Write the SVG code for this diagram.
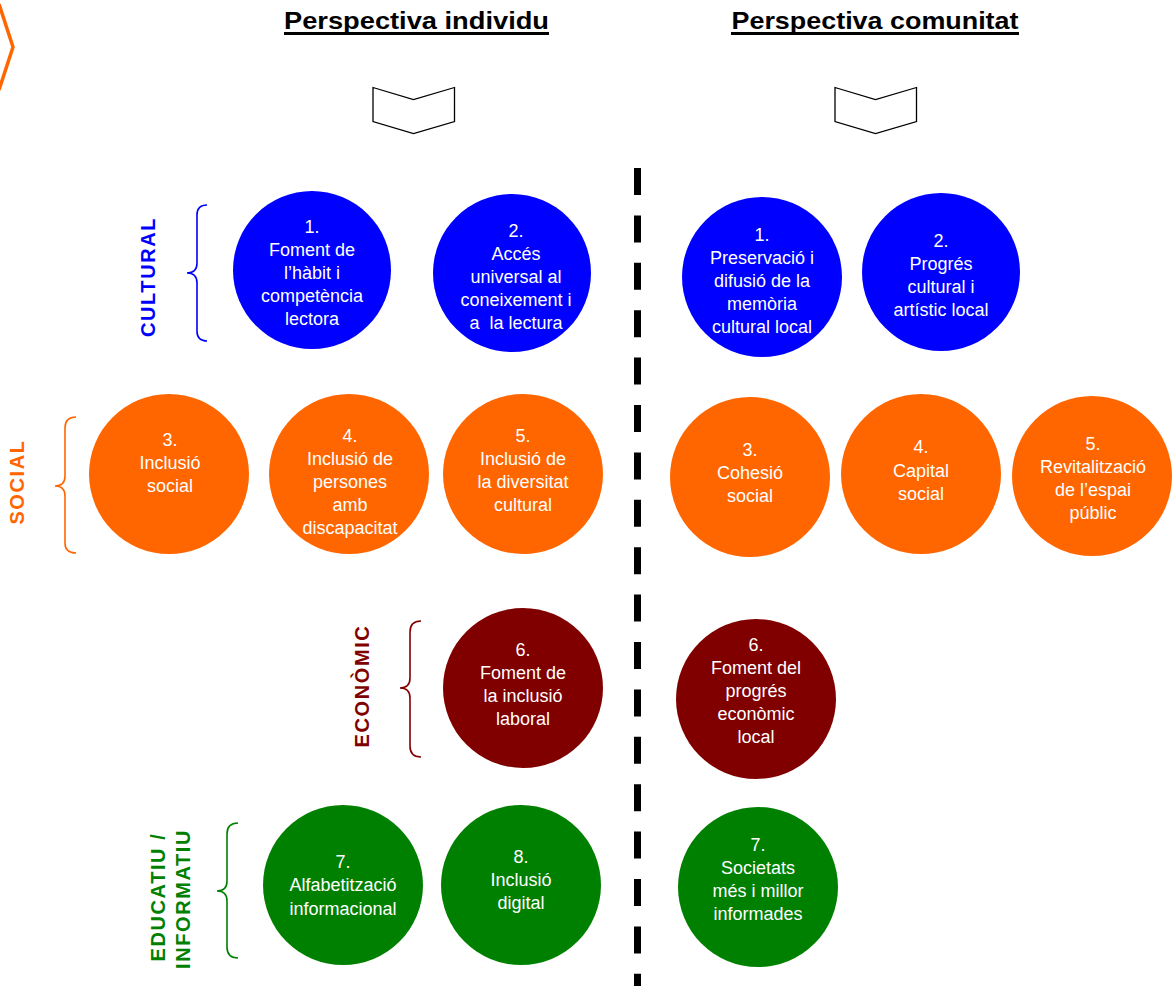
<svg xmlns="http://www.w3.org/2000/svg" width="1173" height="986" viewBox="0 0 1173 986">
<style>
.t{font-family:"Liberation Sans",Arial,sans-serif;font-size:18px;fill:#fff;text-anchor:middle}
.h{font-family:"Liberation Sans",Arial,sans-serif;font-size:24px;font-weight:bold;fill:#000;text-anchor:middle}
.v{font-family:"Liberation Sans",Arial,sans-serif;font-size:20px;font-weight:bold;letter-spacing:1.6px;text-anchor:middle}
.br{fill:none;stroke-width:1.6}
.chev{fill:#fff;stroke:#000;stroke-width:1.3}
.blue{fill:#0000FF}.orange{fill:#FF6600}.red{fill:#800000}.green{fill:#008000}
</style>
<rect width="1173" height="986" fill="#fff"/>
<polyline points="-1,4 13,47 -1,90" fill="none" stroke="#FF6600" stroke-width="3.5"/>

<g id="header-individu">
<text class="h" x="416.5" y="29" textLength="265" lengthAdjust="spacingAndGlyphs">Perspectiva individu</text>
<rect x="284" y="32" width="265" height="3" fill="#000"/>
</g>
<g id="header-comunitat">
<text class="h" x="875" y="29" textLength="287" lengthAdjust="spacingAndGlyphs">Perspectiva comunitat</text>
<rect x="731" y="32" width="288" height="3" fill="#000"/>
</g>

<g id="connectors">
<polygon class="chev" points="373,87.5 413.5,99.5 454.5,87.5 454.5,121.5 413.5,133.5 373,121.5"/>
<polygon class="chev" points="835,87.5 875.5,99.5 916.5,87.5 916.5,121.5 875.5,133.5 835,121.5"/>
<line x1="637.5" y1="168" x2="637.5" y2="986" stroke="#000" stroke-width="7" stroke-dasharray="27 20.4"/>
</g>

<g id="label-cultural">
<path class="br" stroke="#0000FF" d="M207,205 Q197,205 197,215 L197,263 Q197,273 187,273 Q197,273 197,283 L197,331 Q197,341 207,341"/>
<text class="v" fill="#0000FF" transform="translate(155,277) rotate(-90)">CULTURAL</text>
</g>
<g id="label-social">
<path class="br" stroke="#FF6600" d="M76,417 Q65,417 65,428 L65,476 Q65,486 55,486 Q65,486 65,496 L65,543 Q65,553 76,553"/>
<text class="v" fill="#FF6600" transform="translate(24,482) rotate(-90)">SOCIAL</text>
</g>
<g id="label-economic">
<path class="br" stroke="#800000" d="M421,621 Q410,621 410,632 L410,678 Q410,688 400,688 Q410,688 410,698 L410,746 Q410,757 421,757"/>
<text class="v" fill="#800000" transform="translate(369,686) rotate(-90)">ECONÒMIC</text>
</g>
<g id="label-educatiu">
<path class="br" stroke="#008000" d="M238,823 Q227,823 227,834 L227,881 Q227,891 217,891 Q227,891 227,901 L227,947 Q227,958 238,958"/>
<text class="v" fill="#008000" transform="translate(165,897) rotate(-90)">EDUCATIU /</text>
<text class="v" fill="#008000" transform="translate(190,899) rotate(-90)">INFORMATIU</text>
</g>

<g id="ind-1"><circle class="blue" cx="312" cy="270" r="79"/>
<text class="t"><tspan x="312" y="233">1.</tspan><tspan x="312" y="256">Foment de</tspan><tspan x="312" y="279">l’hàbit i</tspan><tspan x="312" y="302">competència</tspan><tspan x="312" y="325">lectora</tspan></text></g>
<g id="ind-2"><circle class="blue" cx="512" cy="273" r="79"/>
<text class="t" xml:space="preserve"><tspan x="516" y="237">2.</tspan><tspan x="516" y="260">Accés</tspan><tspan x="516" y="283">universal al</tspan><tspan x="516" y="306">coneixement i</tspan><tspan x="516" y="329">a  la lectura</tspan></text></g>
<g id="com-1"><circle class="blue" cx="762" cy="277" r="80"/>
<text class="t"><tspan x="762" y="241">1.</tspan><tspan x="762" y="264">Preservació i</tspan><tspan x="762" y="287">difusió de la</tspan><tspan x="762" y="310">memòria</tspan><tspan x="762" y="333">cultural local</tspan></text></g>
<g id="com-2"><circle class="blue" cx="941" cy="272" r="79"/>
<text class="t"><tspan x="941" y="247">2.</tspan><tspan x="941" y="270">Progrés</tspan><tspan x="941" y="293">cultural i</tspan><tspan x="941" y="316">artístic local</tspan></text></g>

<g id="ind-3"><circle class="orange" cx="169" cy="474" r="80"/>
<text class="t"><tspan x="170" y="446">3.</tspan><tspan x="170" y="469">Inclusió</tspan><tspan x="170" y="492">social</tspan></text></g>
<g id="ind-4"><circle class="orange" cx="349" cy="474" r="80"/>
<text class="t"><tspan x="350" y="442">4.</tspan><tspan x="350" y="465">Inclusió de</tspan><tspan x="350" y="488">persones</tspan><tspan x="350" y="511">amb</tspan><tspan x="350" y="534">discapacitat</tspan></text></g>
<g id="ind-5"><circle class="orange" cx="523" cy="474" r="80"/>
<text class="t"><tspan x="523" y="442">5.</tspan><tspan x="523" y="465">Inclusió de</tspan><tspan x="523" y="488">la diversitat</tspan><tspan x="523" y="511">cultural</tspan></text></g>
<g id="com-3"><circle class="orange" cx="750" cy="477" r="80"/>
<text class="t"><tspan x="750" y="456">3.</tspan><tspan x="750" y="479">Cohesió</tspan><tspan x="750" y="502">social</tspan></text></g>
<g id="com-4"><circle class="orange" cx="921" cy="474" r="80"/>
<text class="t"><tspan x="921" y="453">4.</tspan><tspan x="921" y="477">Capital</tspan><tspan x="921" y="500">social</tspan></text></g>
<g id="com-5"><circle class="orange" cx="1092" cy="476" r="80"/>
<text class="t"><tspan x="1093" y="450">5.</tspan><tspan x="1093" y="473">Revitalització</tspan><tspan x="1093" y="496">de l’espai</tspan><tspan x="1093" y="519">públic</tspan></text></g>

<g id="ind-6"><circle class="red" cx="523" cy="688" r="80"/>
<text class="t"><tspan x="523" y="656">6.</tspan><tspan x="523" y="679">Foment de</tspan><tspan x="523" y="702">la inclusió</tspan><tspan x="523" y="725">laboral</tspan></text></g>
<g id="com-6"><circle class="red" cx="756" cy="699" r="80"/>
<text class="t"><tspan x="756" y="651">6.</tspan><tspan x="756" y="674">Foment del</tspan><tspan x="756" y="697">progrés</tspan><tspan x="756" y="720">econòmic</tspan><tspan x="756" y="743">local</tspan></text></g>

<g id="ind-7"><circle class="green" cx="343" cy="885" r="80"/>
<text class="t"><tspan x="343" y="868">7.</tspan><tspan x="343" y="891">Alfabetització</tspan><tspan x="343" y="915">informacional</tspan></text></g>
<g id="ind-8"><circle class="green" cx="521" cy="885" r="80"/>
<text class="t"><tspan x="521" y="863">8.</tspan><tspan x="521" y="886">Inclusió</tspan><tspan x="521" y="909">digital</tspan></text></g>
<g id="com-7"><circle class="green" cx="758" cy="887" r="80"/>
<text class="t"><tspan x="758" y="851">7.</tspan><tspan x="758" y="874">Societats</tspan><tspan x="758" y="897">més i millor</tspan><tspan x="758" y="920">informades</tspan></text></g>
</svg>
